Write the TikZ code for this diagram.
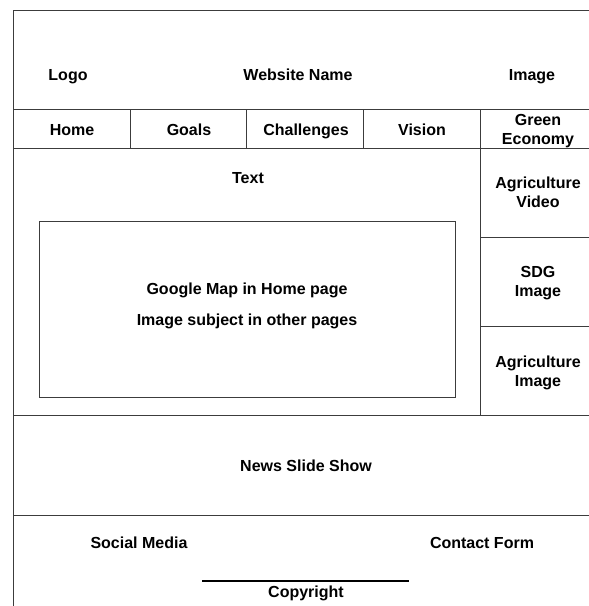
\documentclass[tikz,border=0pt]{standalone}
\usepackage{fontspec}
\setmainfont{Liberation Sans}
\usepackage{tikz}
\usetikzlibrary{positioning}
\definecolor{wireline}{RGB}{60,60,60}

\tikzset{
  twoline/.style={font=\bfseries\fontsize{16}{19}\selectfont, align=center, inner sep=0pt},
  label/.style={twoline, text height=11.5pt, text depth=0pt}
}

\begin{document}
\begin{tikzpicture}[x=1pt, y=-1pt]
      \useasboundingbox (0,0) rectangle (589,606);
      % frame and rows
      \draw[thick, color=wireline] (13,606) -- (13,10) -- (589,10);
      \draw[thick, color=wireline] (13,109) -- (589,109);
      \draw[thick, color=wireline] (13,148) -- (589,148);
      \draw[thick, color=wireline] (13,415) -- (589,415);
      \draw[thick, color=wireline] (13,515) -- (589,515);
      % menu cells
      \draw[thick, color=wireline] (130,109) -- (130,148);
      \draw[thick, color=wireline] (246,109) -- (246,148);
      \draw[thick, color=wireline] (363,109) -- (363,148);
      \draw[thick, color=wireline] (480,109) -- (480,415);
      % side column
      \draw[thick, color=wireline] (480,237) -- (589,237);
      \draw[thick, color=wireline] (480,326) -- (589,326);
      % map box
      \draw[thick, color=wireline] (39,221) rectangle (455,397);
      % copyright rule
      \draw[very thick] (202,581) -- (409,581);

      \node[label] (logo)  at ( 68, 75) {Logo};
      \node[label] (name)  at (298, 75) {Website Name};
      \node[label] (image) at (532, 75) {Image};
      \node[label] (home)  at ( 72,130) {Home};
      \node[label] (goals) at (189,130) {Goals};
      \node[label] (chal)  at (306,130) {Challenges};
      \node[label] (vis)   at (422,130) {Vision};
      \node[twoline] (green) at (538,131) {Green\\Economy};
      \node[label] (text)  at (248,178) {Text};
      \node[twoline] (agvid) at (538,192.5) {Agriculture\\Video};
      \node[twoline] (sdg)   at (538,283.5) {SDG\\Image};
      \node[twoline] (agimg) at (538,372.5) {Agriculture\\Image};
      \node[label] (map)   at (247,289) {Google Map in Home page};
      \node[label] (subj)  at (247,320) {Image subject in other pages};
      \node[label] (news)  at (306,466) {News Slide Show};
      \node[label] (social) at (139,543) {Social Media};
      \node[label] (contact) at (482,543) {Contact Form};
      \node[label] (copy)  at (306,592) {Copyright};
\end{tikzpicture}
\end{document}
